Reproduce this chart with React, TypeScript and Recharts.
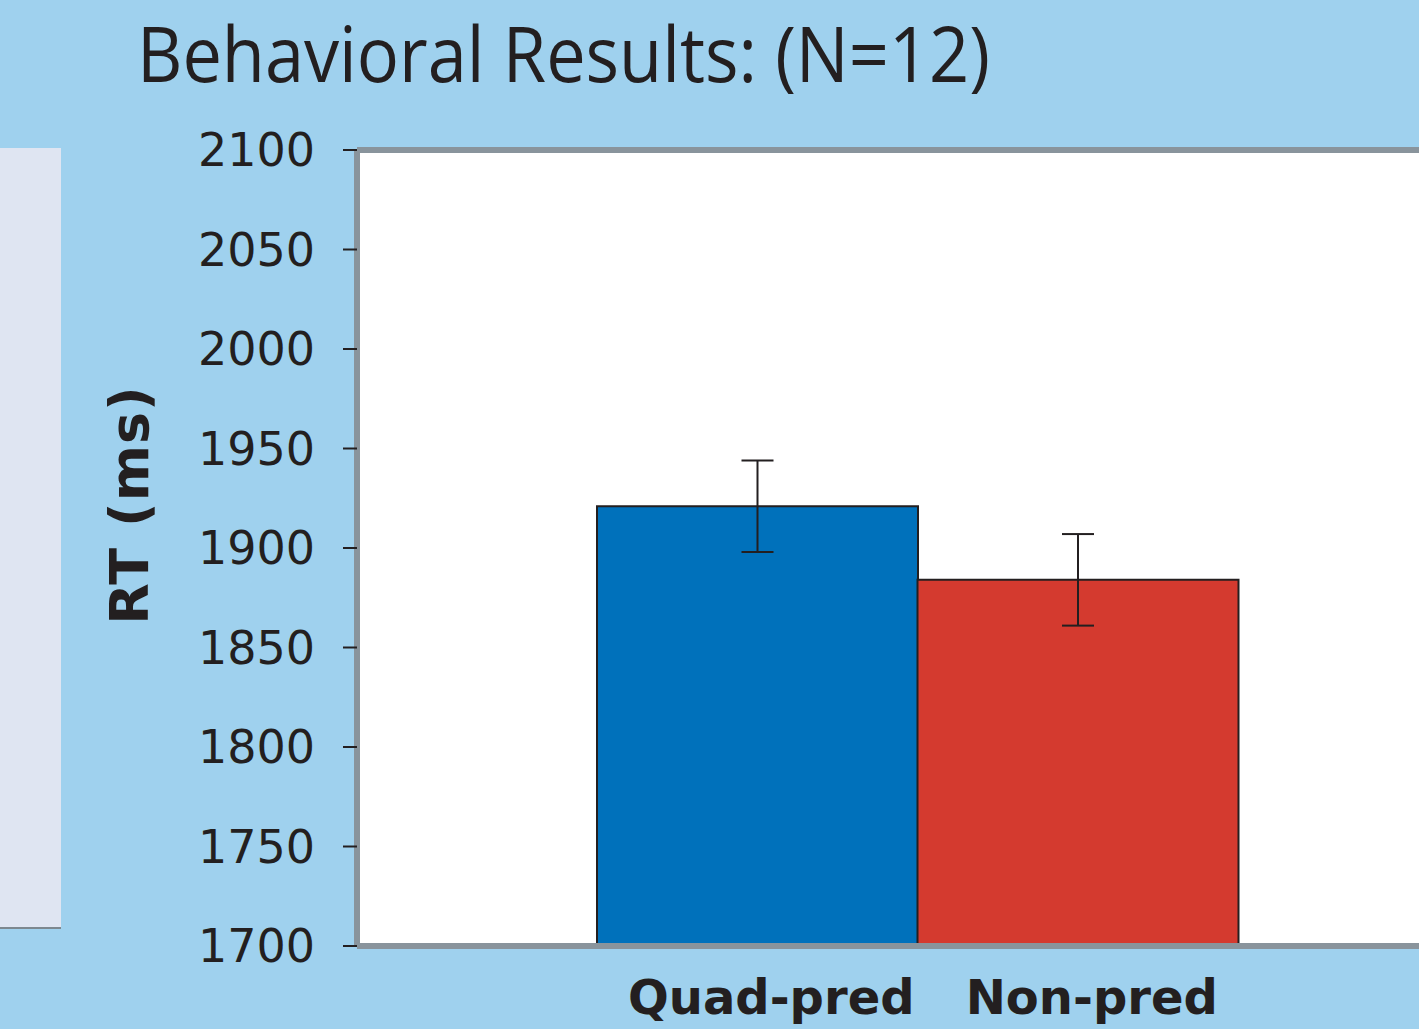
import { BarChart, Bar, XAxis, YAxis, CartesianGrid, ErrorBar, Cell, ReferenceLine } from 'recharts';

const conditions = ['Quad-pred', 'Non-pred'];
const meanRT = [1921, 1884];
const errRT = [23, 23];
const barColors = ['#0071bb', '#d43a2f'];
const yTicks = [1700, 1750, 1800, 1850, 1900, 1950, 2000, 2050, 2100];

const data = conditions.map((c, i) => ({ name: c, rt: meanRT[i], err: errRT[i] }));

const BG = '#9fd1ee';
const AXIS_GRAY = '#89949c';
const INK = '#231f20';
const FONT = "'DejaVu Sans', Verdana, sans-serif";

// y-axis title sits a bit above the plot centre in the original
const YLabel = () => (
  <text x={148} y={505} transform="rotate(-90 148 505)" textAnchor="middle"
        fill={INK} fontSize={54} fontWeight={700} fontFamily={FONT} letterSpacing={1}>
    RT (ms)
  </text>
);

export default function App() {
  return (
    <div style={{ position: 'absolute', left: 0, top: 0, width: 1419, height: 1029, background: BG, overflow: 'hidden' }}>
      <div style={{ position: 'absolute', left: 0, top: 148, width: 61, height: 779, background: '#dfe5f2', borderBottom: '2px solid #7d8890' }} />
      <svg style={{ position: 'absolute', left: 0, top: 0 }} width={1419} height={120}>
        <text x={137} y={82} fontFamily="'Open Sans', 'Noto Sans', sans-serif" fontSize={76} fill={INK}
              textLength={853} lengthAdjust="spacingAndGlyphs">
          Behavioral Results: (N=12)
        </text>
      </svg>
      <div style={{ position: 'absolute', left: 0, top: 0 }}>
        <BarChart width={1419} height={1029} data={data} barCategoryGap={0}
                  margin={{ top: 150, right: 0, bottom: 0, left: 0 }}>
          <CartesianGrid fill="#ffffff" horizontal={false} vertical={false} />
          <XAxis dataKey="name" type="category" height={83} padding={{ left: 240, right: 181 }}
                 axisLine={{ stroke: AXIS_GRAY, strokeWidth: 6 }} tickLine={false} tickMargin={28}
                 tick={{ fill: INK, fontSize: 48, fontWeight: 700, fontFamily: FONT, dx: 14 }} />
          <YAxis type="number" domain={[1700, 2100]} ticks={yTicks} width={357} interval={0}
                 axisLine={{ stroke: AXIS_GRAY, strokeWidth: 6 }}
                 tickLine={{ stroke: INK, strokeWidth: 2 }} tickSize={14} tickMargin={28}
                 tick={{ fill: INK, fontSize: 46, fontFamily: FONT }}
                 label={{ content: () => <YLabel /> }} />
          <ReferenceLine y={2100} stroke={AXIS_GRAY} strokeWidth={6} />
          <Bar dataKey="rt" stroke={INK} strokeWidth={2} isAnimationActive={false}>
            {data.map((d, i) => (
              <Cell key={d.name} fill={barColors[i]} />
            ))}
            <ErrorBar dataKey="err" width={16} stroke={INK} strokeWidth={2} isAnimationActive={false} />
          </Bar>
        </BarChart>
      </div>
    </div>
  );
}
